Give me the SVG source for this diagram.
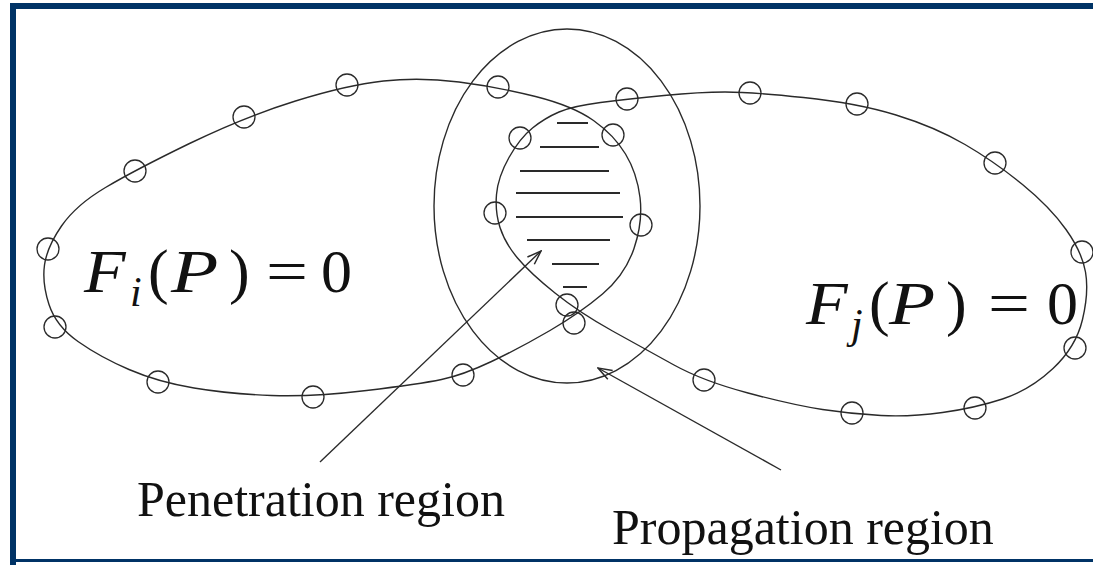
<svg xmlns="http://www.w3.org/2000/svg" width="1093" height="565" viewBox="0 0 1093 565">
<style>
.curve{fill:none;stroke:#2a2a2a;stroke-width:1.4}
.pt{fill:none;stroke:#2a2a2a;stroke-width:1.3}
.hatch{stroke:#2a2a2a;stroke-width:2}
.conn{stroke:#2a2a2a;stroke-width:1.4;fill:none}
.lbl{font-family:"Liberation Serif","Times New Roman",serif;fill:#111}
.eq{font-family:"Liberation Serif","Times New Roman",serif;fill:#111;font-size:62px}
.it{font-style:italic}
.frame{fill:#003366}
</style>
<defs>
<marker id="open" viewBox="0 0 16 12" refX="15" refY="6" markerWidth="16" markerHeight="12" orient="auto" markerUnits="userSpaceOnUse">
<path d="M1,1 L15,6 L1,11" fill="none" stroke="#2a2a2a" stroke-width="1.5"/>
</marker>
</defs>
<rect width="1093" height="565" fill="#ffffff"/>
<g id="frame">
<rect class="frame" x="10" y="3" width="1083" height="6"/>
<rect class="frame" x="10" y="3" width="6" height="562"/>
<rect class="frame" x="10" y="559" width="1083" height="3"/>
</g>
<g id="surface-Fi">
<path class="curve" d="M49,304.5 Q42,283 44.5,265 Q47,247 61.5,226 Q76,205 105.5,187.5 Q135,170 189.5,143.5 Q244,117 295.5,101 Q347,85 383.5,81 Q420,77 459,82 Q498,87 535.5,96.5 Q573,106 593.5,120.5 Q614,135 625.5,154 Q637,173 640,197.5 Q643,222 634,248.5 Q625,275 602.5,294 Q580,313 550,330.5 Q520,348 491.5,361.5 Q463,375 441.5,379.5 Q420,384 366.5,390.5 Q313,397 271.5,395.5 Q230,394 194,388 Q158,382 129,369.5 Q100,357 78,341.5 Q56,326 49,304.5 Z"/>
<g class="pt">
<circle cx="48" cy="249" r="11"/>
<circle cx="55" cy="327" r="11"/>
<circle cx="158" cy="382" r="11"/>
<circle cx="313" cy="397" r="11"/>
<circle cx="463" cy="375" r="11"/>
<circle cx="574" cy="323" r="11"/>
<circle cx="641" cy="225" r="11"/>
<circle cx="613" cy="135" r="11"/>
<circle cx="498" cy="87" r="11"/>
<circle cx="347" cy="85" r="11"/>
<circle cx="244" cy="117" r="11"/>
<circle cx="135" cy="171" r="11"/>
</g>
<g id="eq-Fi">
<text class="eq it" transform="translate(84,292) scale(1.1,1)">F</text>
<text class="eq it" x="130" y="306" style="font-size:42px">i</text>
<text class="eq" x="148" y="292">(</text>
<text class="eq it" transform="translate(171,292) scale(1.25,1)">P</text>
<text class="eq" x="229" y="292">)</text>
<text class="eq" transform="translate(266,292) scale(1.2,1)">=</text>
<text class="eq" x="321" y="292">0</text>
</g>
</g>
<g id="surface-Fj">
<path class="curve" d="M559,112 Q573,106 600.5,102.5 Q628,99 664,95.5 Q700,92 725,92 Q750,92 803.5,97.5 Q857,103 896,115 Q935,127 965,144.5 Q995,162 1022.5,184.5 Q1050,207 1066,229.5 Q1082,252 1085.5,272 Q1089,292 1082.5,319.5 Q1076,347 1053,368.5 Q1030,390 1002.5,399 Q975,408 942.5,412.5 Q910,417 881,415.5 Q852,414 822.5,409.5 Q793,405 748,393 Q703,381 674,365 Q645,349 612.5,331 Q580,313 555,293 Q530,273 517.5,258 Q505,243 500,227.5 Q495,212 496.5,194.5 Q498,177 509,157.5 Q520,138 532.5,128 Q545,118 559,112 Z"/>
<g class="pt">
<circle cx="627" cy="99" r="11"/>
<circle cx="750" cy="93" r="11"/>
<circle cx="857" cy="104" r="11"/>
<circle cx="995" cy="163" r="11"/>
<circle cx="1082" cy="252" r="11"/>
<circle cx="1075" cy="348" r="11"/>
<circle cx="975" cy="408" r="11"/>
<circle cx="852" cy="413" r="11"/>
<circle cx="704" cy="380" r="11"/>
<circle cx="567" cy="305" r="11"/>
<circle cx="495" cy="213" r="11"/>
<circle cx="520" cy="138" r="11"/>
</g>
<g id="eq-Fj">
<text class="eq it" transform="translate(806,324) scale(1.1,1)">F</text>
<text class="eq it" x="851" y="338" style="font-size:42px">j</text>
<text class="eq" x="869" y="324">(</text>
<text class="eq it" transform="translate(889,324) scale(1.22,1)">P</text>
<text class="eq" x="946" y="324">)</text>
<text class="eq" transform="translate(988,324) scale(1.2,1)">=</text>
<text class="eq" x="1047" y="324">0</text>
</g>
</g>
<g id="propagation-region">
<ellipse class="curve" cx="567" cy="206" rx="133" ry="177"/>
</g>
<g id="penetration-region">
<line class="hatch" x1="557" y1="123" x2="588" y2="123"/>
<line class="hatch" x1="540" y1="147" x2="599" y2="147"/>
<line class="hatch" x1="520" y1="171" x2="609" y2="171"/>
<line class="hatch" x1="516" y1="193" x2="620" y2="193"/>
<line class="hatch" x1="516" y1="217" x2="623" y2="217"/>
<line class="hatch" x1="527" y1="240" x2="610" y2="240"/>
<line class="hatch" x1="552" y1="264" x2="599" y2="264"/>
<line class="hatch" x1="563" y1="287" x2="587" y2="287"/>
</g>
<g id="label-penetration">
<text class="lbl" x="137" y="516" font-size="50">Penetration region</text>
</g>
<g id="label-propagation">
<text class="lbl" x="612" y="544" font-size="50">Propagation region</text>
</g>
<g id="connectors">
<line class="conn" x1="320" y1="462" x2="541" y2="251" marker-end="url(#open)"/>
<line class="conn" x1="781" y1="470" x2="598" y2="368" marker-end="url(#open)"/>
</g>
</svg>
